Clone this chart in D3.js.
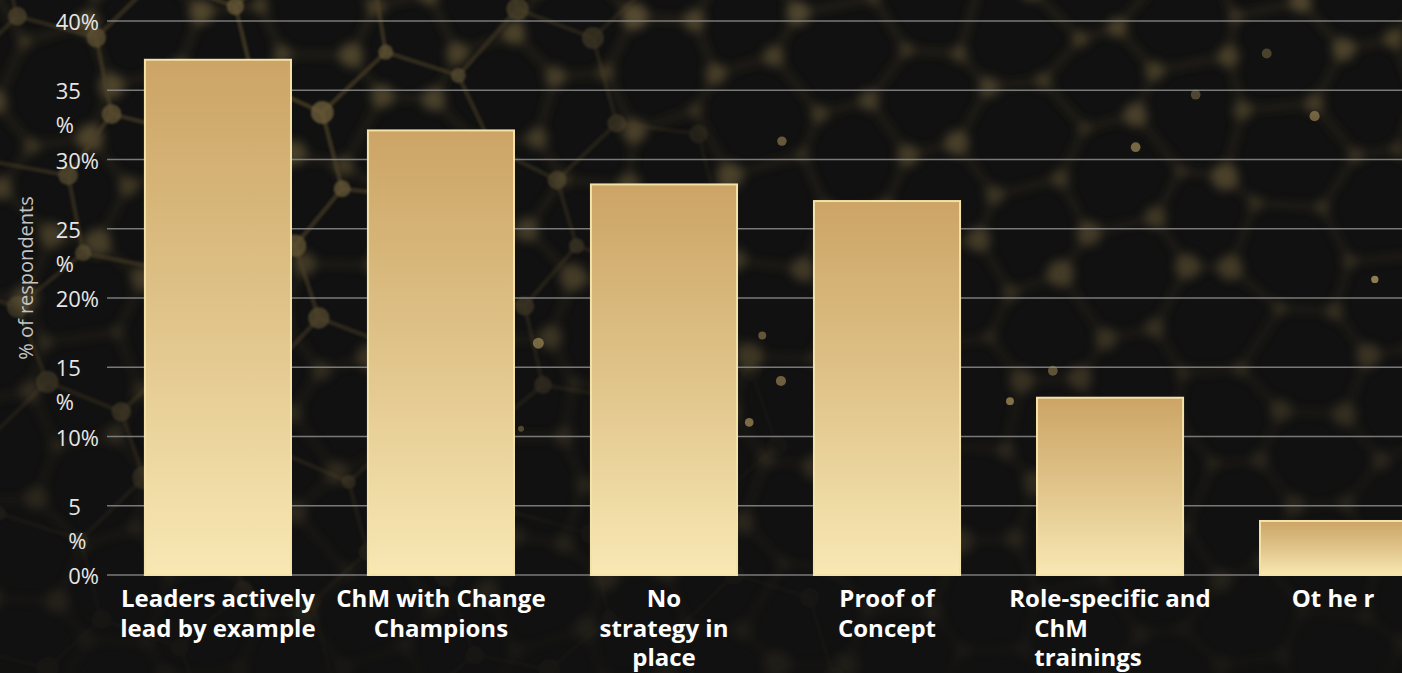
<!DOCTYPE html>
<html>
<head>
<meta charset="utf-8">
<script src="https://cdn.jsdelivr.net/npm/d3@7"></script>
<style>
  html, body { margin: 0; padding: 0; background: #111111; }
  svg { display: block; }
</style>
</head>
<body>
<svg id="chart" width="1402" height="673"></svg>
<script>
// ---- data ----
const categories = [
  "Leaders actively lead by example",
  "ChM with Change Champions",
  "No strategy in place",
  "Proof of Concept",
  "Role-specific and ChM trainings",
  "Ot he r"
];
const categoryLines = [
  ["Leaders actively", "lead by example"],
  ["ChM with Change", "Champions"],
  ["No", "strategy in", "place"],
  ["Proof of", "Concept"],
  ["Role-specific and", "ChM", "trainings"],
  ["Ot he r"]
];
const values = [37.2, 32.1, 28.2, 27.0, 12.8, 3.9];
const yTicks = [0, 5, 10, 15, 20, 25, 30, 35, 40];
const yTickLabels = [["0%"], ["5", "%"], ["10%"], ["15", "%"], ["20%"], ["25", "%"], ["30%"], ["35", "%"], ["40%"]];
const yAxisTitle = "% of respondents";

// ---- setup ----
const W = 1402, H = 673;
const svg = d3.select("#chart");
const defs = svg.append("defs");

const y = d3.scaleLinear().domain([0, 40]).range([575, 21]);
const x = d3.scaleBand().domain(categories).range([107, 1444])
  .paddingInner(0.345).paddingOuter(0.17);

// ---- background: dark field with a glowing golden network ----
svg.append("rect").attr("width", W).attr("height", H).attr("fill", "#111111");

const blurSoft = defs.append("filter").attr("id", "blurSoft")
  .attr("x", "-20%").attr("y", "-20%").attr("width", "140%").attr("height", "140%");
blurSoft.append("feGaussianBlur").attr("stdDeviation", 5);
const blurLight = defs.append("filter").attr("id", "blurLight")
  .attr("x", "-20%").attr("y", "-20%").attr("width", "140%").attr("height", "140%");
blurLight.append("feGaussianBlur").attr("stdDeviation", 1.3);

// fade masks
const fadeTop = defs.append("linearGradient").attr("id", "fadeTop")
  .attr("x1", 0).attr("y1", 0).attr("x2", 0).attr("y2", 1);
fadeTop.append("stop").attr("offset", "0%").attr("stop-color", "#fff").attr("stop-opacity", 1);
fadeTop.append("stop").attr("offset", "45%").attr("stop-color", "#fff").attr("stop-opacity", 0.7);
fadeTop.append("stop").attr("offset", "100%").attr("stop-color", "#fff").attr("stop-opacity", 0.2);
defs.append("mask").attr("id", "maskTop")
  .append("rect").attr("width", W).attr("height", H).attr("fill", "url(#fadeTop)");

const fadeLeft = defs.append("radialGradient").attr("id", "fadeLeft")
  .attr("gradientUnits", "userSpaceOnUse").attr("cx", 260).attr("cy", 110).attr("r", 520);
fadeLeft.append("stop").attr("offset", "0%").attr("stop-color", "#fff").attr("stop-opacity", 1);
fadeLeft.append("stop").attr("offset", "50%").attr("stop-color", "#fff").attr("stop-opacity", 0.55);
fadeLeft.append("stop").attr("offset", "100%").attr("stop-color", "#fff").attr("stop-opacity", 0.08);
defs.append("mask").attr("id", "maskLeft")
  .append("rect").attr("width", W).attr("height", H).attr("fill", "url(#fadeLeft)");

function seeded(a) {
  return function () {
    a |= 0; a = a + 0x6D2B79F5 | 0;
    let t = Math.imul(a ^ a >>> 15, 1 | a);
    t = t + Math.imul(t ^ t >>> 7, 61 | t) ^ t;
    return ((t ^ t >>> 14) >>> 0) / 4294967296;
  };
}

// honeycomb lattice, rotated and jittered
function honeycomb(L, angle, ox, oy, cols, rows, jitter, seed) {
  const rnd = seeded(seed);
  const ca = Math.cos(angle), sa = Math.sin(angle);
  const pts = new Map();
  for (let i = -cols; i <= cols; i++) {
    for (let j = -rows; j <= rows; j++) {
      const px = i * 0.866 * L;
      const py = j * 1.5 * L + (((i + j) % 2 + 2) % 2 ? 0.5 * L : 0);
      const rx = px * ca - py * sa + ox + (rnd() - 0.5) * jitter;
      const ry = px * sa + py * ca + oy + (rnd() - 0.5) * jitter;
      pts.set(i + "," + j, { x: rx, y: ry, r: rnd() });
    }
  }
  const edges = [];
  for (let i = -cols; i <= cols; i++) {
    for (let j = -rows; j <= rows; j++) {
      const a = pts.get(i + "," + j);
      const b = pts.get((i + 1) + "," + j);
      if (b) edges.push([a, b]);
      if (((i + j) % 2 + 2) % 2) {
        const c = pts.get(i + "," + (j + 1));
        if (c) edges.push([a, c]);
      }
    }
  }
  const inView = p => p.x > -80 && p.x < W + 80 && p.y > -80 && p.y < H + 80;
  return {
    nodes: Array.from(pts.values()).filter(inView),
    edges: edges.filter(e => inView(e[0]))
  };
}

// deep, blurred layer across the top
const deep = honeycomb(58, 0.42, 700, 120, 18, 10, 22, 7);
const deepG = svg.append("g").attr("mask", "url(#maskTop)").attr("filter", "url(#blurSoft)");
deepG.selectAll("line").data(deep.edges).join("line")
  .attr("x1", d => d[0].x).attr("y1", d => d[0].y)
  .attr("x2", d => d[1].x).attr("y2", d => d[1].y)
  .attr("stroke", "#5e4e2e").attr("stroke-width", 5).attr("stroke-opacity", 0.35);
deepG.selectAll("circle").data(deep.nodes).join("circle")
  .attr("cx", d => d.x).attr("cy", d => d.y).attr("r", d => 7 + d.r * 7)
  .attr("fill", "#95804e").attr("fill-opacity", d => 0.18 + d.r * 0.3);

// nearer, crisper layer on the left
const near = honeycomb(80, -0.25, 120, 120, 8, 8, 18, 21);
const nearG = svg.append("g").attr("mask", "url(#maskLeft)").attr("filter", "url(#blurLight)");
nearG.selectAll("line").data(near.edges).join("line")
  .attr("x1", d => d[0].x).attr("y1", d => d[0].y)
  .attr("x2", d => d[1].x).attr("y2", d => d[1].y)
  .attr("stroke", "#4a3e27").attr("stroke-width", 4.5).attr("stroke-opacity", 0.8);
nearG.selectAll("circle").data(near.nodes).join("circle")
  .attr("cx", d => d.x).attr("cy", d => d.y).attr("r", d => 7 + d.r * 5)
  .attr("fill", "#77653d").attr("fill-opacity", 0.8);

// scattered bright specks
const rs = seeded(99);
const specks = d3.range(18).map(() => ({ x: 520 + rs() * 880, y: 20 + rs() * 500, r: 3 + rs() * 2.5, o: 0.35 + rs() * 0.45 }));
svg.append("g").selectAll("circle").data(specks).join("circle")
  .attr("cx", d => d.x).attr("cy", d => d.y).attr("r", d => d.r)
  .attr("fill", "#b39a62").attr("fill-opacity", d => d.o);

// ---- gridlines ----
svg.append("g").selectAll("line").data(yTicks).join("line")
  .attr("x1", 107).attr("x2", W)
  .attr("y1", d => y(d)).attr("y2", d => y(d))
  .attr("stroke", "#8c8c8c").attr("stroke-width", 1.5).attr("stroke-opacity", 0.85);

// ---- bars ----
const grad = defs.append("linearGradient").attr("id", "barGrad")
  .attr("x1", 0).attr("y1", 0).attr("x2", 0).attr("y2", 1);
grad.append("stop").attr("offset", "0%").attr("stop-color", "#cca466");
grad.append("stop").attr("offset", "50%").attr("stop-color", "#e0c48a");
grad.append("stop").attr("offset", "100%").attr("stop-color", "#f8e8b4");

svg.append("g").selectAll("rect").data(values).join("rect")
  .attr("x", (d, i) => x(categories[i]))
  .attr("y", d => y(d))
  .attr("width", x.bandwidth())
  .attr("height", d => y(0) - y(d))
  .attr("fill", "url(#barGrad)")
  .attr("stroke", "#f4e2a8").attr("stroke-width", 2);

// ---- y tick labels ----
const font = "'Open Sans', 'Noto Sans', sans-serif";
const yLab = svg.append("g").attr("font-family", font).attr("font-size", 22).attr("fill", "#e6e6e6");
yTicks.forEach((t, i) => {
  const lines = yTickLabels[i];
  // measure the unwrapped label so wrapped lines share its left edge
  const probe = yLab.append("text").text(lines.join(""));
  const w = probe.node().getComputedTextLength();
  probe.remove();
  const txt = yLab.append("text")
    .attr("x", 99 - w).attr("y", y(t))
    .attr("dominant-baseline", "central");
  lines.forEach((l, k) => {
    txt.append("tspan").attr("x", 99 - w).attr("dy", k === 0 ? 0 : 34).text(l);
  });
});

// ---- y axis title ----
svg.append("text")
  .attr("transform", "translate(25,278) rotate(-90)")
  .attr("text-anchor", "middle").attr("dominant-baseline", "central")
  .attr("font-family", font).attr("font-size", 20).attr("fill", "#c4c4c4")
  .text(yAxisTitle);

// ---- category labels ----
const xLab = svg.append("g").attr("font-family", font).attr("font-size", 24)
  .attr("font-weight", 700).attr("fill", "#ffffff");
categories.forEach((c, i) => {
  const cx = x(c) + x.bandwidth() / 2;
  const lines = categoryLines[i];
  const g = xLab.append("g");
  const first = g.append("text").attr("x", cx).attr("y", 607)
    .attr("text-anchor", "middle").text(lines[0]);
  const w0 = first.node().getComputedTextLength();
  lines.slice(1).forEach((l, k) => {
    const t = g.append("text").attr("y", 607 + 29.5 * (k + 1)).text(l);
    if (c === "Role-specific and ChM trainings") {
      t.attr("x", cx - w0 / 2 + 25).attr("text-anchor", "start");
    } else {
      t.attr("x", cx).attr("text-anchor", "middle");
    }
  });
});
</script>
</body>
</html>
